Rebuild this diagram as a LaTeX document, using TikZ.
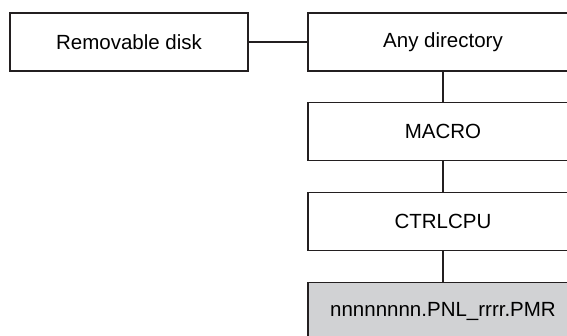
\documentclass[tikz,border=0pt]{standalone}
\usepackage{fontspec}
\setmainfont{Liberation Sans}
\usepackage{tikz}
\usetikzlibrary{positioning}
\definecolor{boxline}{HTML}{231F20}
\definecolor{filegray}{HTML}{D1D2D4}

\begin{document}
\begin{tikzpicture}[
  x=1pt, y=-1pt,
  font=\fontsize{20.5}{24}\selectfont,
  folder/.style={draw=boxline, line width=1.7pt, minimum height=58pt, inner sep=0pt},
  leftfolder/.style={folder, minimum width=238pt},
  rightfolder/.style={folder, minimum width=270pt},
  filebox/.style={rightfolder, fill=filegray},
  link/.style={draw=boxline, line width=1.7pt}
]
\useasboundingbox (0,0) rectangle (567,336);
\clip (0,0) rectangle (567,336);

\node[leftfolder] (disk) at (129, 42) {Removable disk};
\node[rightfolder] (anydir) at (443, 42) {Any directory};
\node[rightfolder] (macro) at (443, 131.5) {MACRO};
\node[rightfolder] (ctrlcpu) at (443, 221.5) {CTRLCPU};
\node[filebox] (pmrfile) at (443, 311.5) {nnnnnnnn.PNL\_rrrr.PMR};

\draw[link] (disk.east) -- (anydir.west);
\draw[link] (anydir.south) -- (macro.north);
\draw[link] (macro.south) -- (ctrlcpu.north);
\draw[link] (ctrlcpu.south) -- (pmrfile.north);

\end{tikzpicture}
\end{document}
